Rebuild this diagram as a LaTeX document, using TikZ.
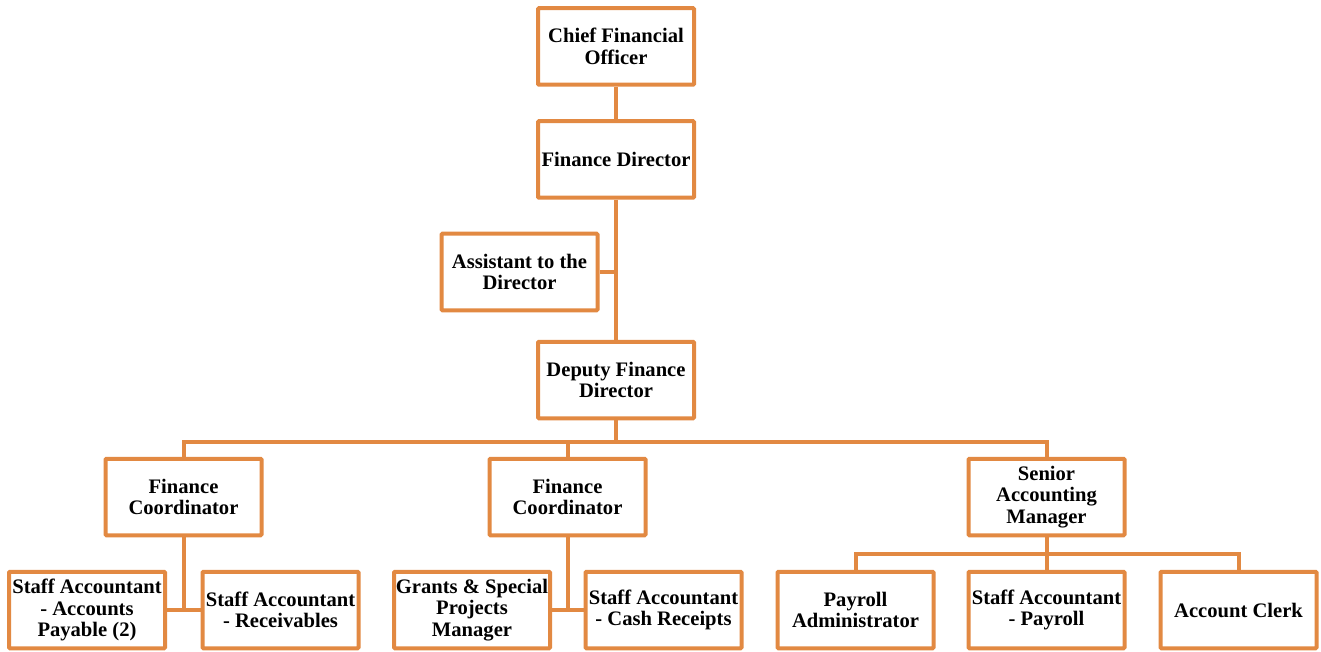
\documentclass[tikz,border=0pt]{standalone}
\usepackage{fontspec}
\setmainfont{Liberation Serif}
\definecolor{org}{RGB}{226,137,66}
\begin{document}
\begin{tikzpicture}[x=1pt,y=-1pt,
  box/.style={draw=org,line width=4pt,rounded corners=1pt,minimum width=156pt,minimum height=76.5pt,inner sep=0pt,
    align=center,font=\bfseries\fontsize{20.6}{21.5}\selectfont,text=black},
  link/.style={draw=org,line width=4pt}]
\useasboundingbox (0,0) rectangle (1321,652);
\node[box] (cfo) at (616,46.5) {Chief Financial\\Officer};
\node[box] (fd) at (616,159.5) {Finance Director};
\node[box] (asst) at (519.5,272) {Assistant to the\\Director};
\node[box] (dep) at (616,380) {Deputy Finance\\Director};
\node[box] (fc1) at (183.5,497) {Finance\\Coordinator};
\node[box] (fc2) at (567.5,497) {Finance\\Coordinator};
\node[box] (sam) at (1046.5,497) {Senior\\Accounting\\Manager};
\node[box] (ap) at (87,610) {Staff Accountant\\- Accounts\\Payable (2)};
\node[box] (rec) at (280.5,610) {Staff Accountant\\- Receivables};
\node[box] (gr) at (472,610) {Grants \& Special\\Projects\\Manager};
\node[box] (cash) at (663.5,610) {Staff Accountant\\- Cash Receipts};
\node[box] (pa) at (855.5,610) {Payroll\\Administrator};
\node[box] (sap) at (1046.5,610) {Staff Accountant\\- Payroll};
\node[box] (clerk) at (1238.5,610) {Account Clerk};
\coordinate (bus) at (616,441.5);
\coordinate (sbus) at (1046.5,554);
\coordinate (j1) at (183.5,610);
\coordinate (j2) at (567.5,610);
\draw[link] (cfo.south) -- (fd.north);
\draw[link] (fd.south) -- (dep.north);
\draw[link] (asst.east) -- (asst.east -| fd.south);
\draw[link] (dep.south) -- (bus);
\draw[link] (fc1.north) |- (bus) -| (sam.north);
\draw[link] (fc2.north) -- (fc2.north |- bus);
\draw[link] (fc1.south) -- (j1);
\draw[link] (ap.east) -- (rec.west);
\draw[link] (fc2.south) -- (j2);
\draw[link] (gr.east) -- (cash.west);
\draw[link] (sam.south) -- (sbus);
\draw[link] (pa.north) |- (sbus) -| (clerk.north);
\draw[link] (sap.north) -- (sbus);
\end{tikzpicture}
\end{document}
